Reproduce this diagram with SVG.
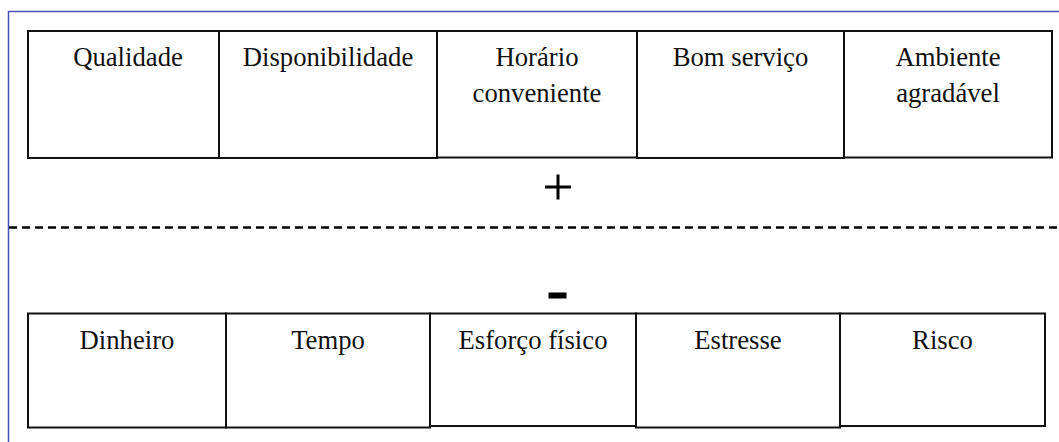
<svg xmlns="http://www.w3.org/2000/svg" width="1059" height="442" viewBox="0 0 1059 442">
<style>
.box{fill:#fff;stroke:#111;stroke-width:2}
.t{font-size:26.7px;fill:#111;text-anchor:middle}
.frame{fill:none;stroke:#4650b8;stroke-width:1.5}
</style>
<rect width="1059" height="442" fill="#fff"/>
<path class="frame" d="M8.5,442 V11.5 H1059"/>
<g font-family="'Liberation Serif', 'Times New Roman', Times, serif">
<g id="pos">
<g id="qualidade"><rect class="box" x="28" y="31" width="191" height="127"/><text class="t" x="128" y="66">Qualidade</text></g>
<g id="disponibilidade"><rect class="box" x="219" y="31" width="218" height="127"/><text class="t" x="328" y="66">Disponibilidade</text></g>
<g id="horario"><rect class="box" x="437" y="31" width="200" height="126.5"/><text class="t" x="537" y="66">Horário</text><text class="t" x="537" y="102">conveniente</text></g>
<g id="bomservico"><rect class="box" x="637" y="31" width="207" height="127"/><text class="t" x="740.5" y="66">Bom serviço</text></g>
<g id="ambiente"><rect class="box" x="844" y="31" width="208" height="126.5"/><text class="t" x="948" y="66">Ambiente</text><text class="t" x="948" y="102">agradável</text></g>
</g>
<g id="neg">
<g id="dinheiro"><rect class="box" x="28" y="313.5" width="198" height="114"/><text class="t" x="127" y="349">Dinheiro</text></g>
<g id="tempo"><rect class="box" x="226" y="313.5" width="204" height="114"/><text class="t" x="328" y="349">Tempo</text></g>
<g id="esforco"><rect class="box" x="430" y="313.5" width="206" height="112.5"/><text class="t" x="533" y="349">Esforço físico</text></g>
<g id="estresse"><rect class="box" x="636" y="313.5" width="204" height="114"/><text class="t" x="738" y="349">Estresse</text></g>
<g id="risco"><rect class="box" x="840" y="313.5" width="205" height="112.5"/><text class="t" x="942.5" y="349">Risco</text></g>
</g>
</g>
<g id="connectors">
<line x1="9" y1="227.5" x2="1059" y2="227.5" stroke="#000" stroke-width="2.5" stroke-dasharray="8,5"/>
</g>
<g id="plus"><path d="M545,187 H571 M558,174.5 V199.5" stroke="#000" stroke-width="3" fill="none"/></g>
<g id="minus"><rect x="548.5" y="292.5" width="18" height="6" fill="#000"/></g>
</svg>
